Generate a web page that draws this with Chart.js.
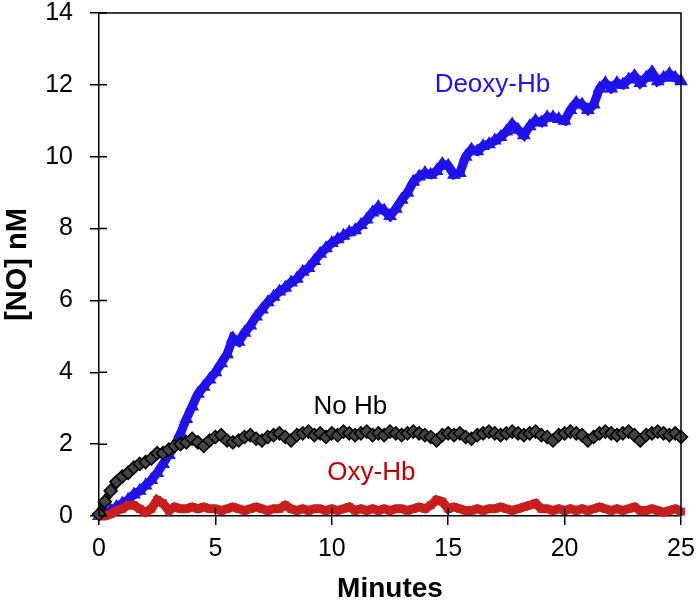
<!DOCTYPE html>
<html>
<head>
<meta charset="utf-8">
<script src="https://cdn.jsdelivr.net/npm/chart.js@4.4.0/dist/chart.umd.min.js"></script>
<style>
  html, body { margin: 0; padding: 0; background: #fff; }
  #wrap { width: 699px; height: 600px; }
</style>
</head>
<body>
<div id="wrap"><canvas id="chartNO" width="699" height="600"></canvas></div>
<script>
// ===== DATOS =====
// tiempo en minutos (paso de 0.25 min)
const minutes = [
  0, 0.25, 0.5, 0.75, 1, 1.25, 1.5, 1.75, 2, 2.25, 2.5, 2.75, 3, 3.25, 3.5, 3.75,
  4, 4.25, 4.5, 4.75, 5, 5.25, 5.5, 5.75, 6, 6.25, 6.5, 6.75, 7, 7.25, 7.5, 7.75,
  8, 8.25, 8.5, 8.75, 9, 9.25, 9.5, 9.75, 10, 10.25, 10.5, 10.75, 11, 11.25, 11.5, 11.75,
  12, 12.25, 12.5, 12.75, 13, 13.25, 13.5, 13.75, 14, 14.25, 14.5, 14.75, 15, 15.25, 15.5, 15.75,
  16, 16.25, 16.5, 16.75, 17, 17.25, 17.5, 17.75, 18, 18.25, 18.5, 18.75, 19, 19.25, 19.5, 19.75,
  20, 20.25, 20.5, 20.75, 21, 21.25, 21.5, 21.75, 22, 22.25, 22.5, 22.75, 23, 23.25, 23.5, 23.75,
  24, 24.25, 24.5, 24.75, 25
];

const deoxyHb = [
  0.00, 0.05, 0.15, 0.25, 0.35, 0.45, 0.60, 0.70, 0.85, 1.00, 1.20, 1.45, 1.70, 1.95, 2.30, 2.70,
  3.05, 3.40, 3.60, 3.80, 4.00, 4.25, 4.50, 4.95, 4.85, 5.10, 5.30, 5.55, 5.75, 5.95, 6.10, 6.25,
  6.35, 6.50, 6.60, 6.80, 6.90, 7.10, 7.30, 7.45, 7.60, 7.70, 7.80, 7.90, 7.95, 8.10, 8.25, 8.45,
  8.60, 8.50, 8.35, 8.55, 8.80, 9.00, 9.30, 9.45, 9.55, 9.50, 9.60, 9.80, 9.75, 9.50, 9.55, 10.00,
  10.20, 10.15, 10.30, 10.35, 10.45, 10.55, 10.70, 10.90, 10.75, 10.60, 10.85, 11.00, 10.95, 11.10, 11.10, 11.05,
  11.00, 11.30, 11.50, 11.45, 11.30, 11.45, 11.90, 12.05, 11.90, 12.05, 12.00, 12.15, 12.25, 12.05, 12.20, 12.35,
  12.10, 12.20, 12.30, 12.20, 12.10
];

const noHb = [
  0.05, 0.40, 0.70, 0.95, 1.10, 1.20, 1.35, 1.45, 1.50, 1.60, 1.75, 1.75, 1.85, 1.95, 2.00, 2.05,
  2.15, 2.05, 1.95, 2.10, 2.20, 2.25, 2.10, 2.05, 2.10, 2.20, 2.25, 2.15, 2.10, 2.20, 2.25, 2.30,
  2.20, 2.10, 2.25, 2.30, 2.35, 2.25, 2.30, 2.20, 2.30, 2.25, 2.35, 2.30, 2.25, 2.30, 2.35, 2.25,
  2.30, 2.25, 2.35, 2.30, 2.25, 2.30, 2.35, 2.30, 2.25, 2.20, 2.10, 2.25, 2.30, 2.25, 2.30, 2.20,
  2.15, 2.25, 2.30, 2.35, 2.30, 2.25, 2.30, 2.35, 2.30, 2.25, 2.30, 2.35, 2.25, 2.20, 2.10, 2.25,
  2.30, 2.35, 2.30, 2.25, 2.10, 2.20, 2.30, 2.35, 2.30, 2.25, 2.30, 2.35, 2.25, 2.10, 2.25, 2.30,
  2.35, 2.30, 2.25, 2.30, 2.20
];

const oxyHb = [
  0.00, 0.00, 0.05, 0.15, 0.20, 0.30, 0.30, 0.20, 0.10, 0.20, 0.45, 0.35, 0.15, 0.25, 0.20, 0.20,
  0.25, 0.20, 0.25, 0.20, 0.20, 0.15, 0.20, 0.25, 0.20, 0.15, 0.20, 0.25, 0.20, 0.15, 0.20, 0.20,
  0.30, 0.20, 0.15, 0.20, 0.15, 0.20, 0.20, 0.15, 0.20, 0.15, 0.20, 0.25, 0.15, 0.20, 0.15, 0.20,
  0.15, 0.20, 0.15, 0.20, 0.20, 0.15, 0.20, 0.25, 0.20, 0.30, 0.45, 0.40, 0.20, 0.25, 0.20, 0.15,
  0.15, 0.20, 0.15, 0.20, 0.20, 0.25, 0.20, 0.15, 0.20, 0.25, 0.30, 0.35, 0.20, 0.20, 0.15, 0.20,
  0.15, 0.20, 0.15, 0.20, 0.15, 0.20, 0.25, 0.20, 0.15, 0.20, 0.15, 0.20, 0.25, 0.15, 0.15, 0.20,
  0.15, 0.10, 0.15, 0.20, 0.12
];

const xTicks = [0, 5, 10, 15, 20, 25];
const yTicks = [0, 2, 4, 6, 8, 10, 12, 14];

// ===== COLORES =====
const palette = {
    blue: "#1f12ee",
    red: "#c81e1e",
    redText: "#c00000",
    black: "#000000"
};

const FONT = "Arial, 'Liberation Sans', sans-serif";

function toPoints(values) {
    return minutes.map((t, i) => ({ x: t, y: values[i] }));
}

// ===== PLUGIN: MARCO, TICKS INTERIORES Y ETIQUETAS =====
const framePlugin = {
    id: "frame",
    afterDatasetsDraw(chart) {
        const ctx = chart.ctx;
        const { left, right, top, bottom } = chart.chartArea;
        const xs = chart.scales.x;
        const ys = chart.scales.y;
        ctx.save();
        ctx.strokeStyle = "#000";
        ctx.lineWidth = 1.5;
        // caja
        ctx.beginPath();
        ctx.moveTo(left, top);
        ctx.lineTo(right, top);
        ctx.lineTo(right, bottom);
        ctx.stroke();
        // ticks hacia dentro
        ctx.beginPath();
        xTicks.forEach(v => {
            const px = xs.getPixelForValue(v);
            ctx.moveTo(px, bottom);
            ctx.lineTo(px, bottom - 8);
        });
        yTicks.forEach(v => {
            const py = ys.getPixelForValue(v);
            ctx.moveTo(left, py);
            ctx.lineTo(left + 8, py);
        });
        ctx.stroke();

        // etiquetas de las curvas
        ctx.font = "26px " + FONT;
        ctx.textAlign = "center";
        ctx.textBaseline = "middle";
        ctx.fillStyle = palette.blue;
        ctx.fillText("Deoxy-Hb", xs.getPixelForValue(16.9), ys.getPixelForValue(12.0));
        ctx.fillStyle = "#000";
        ctx.fillText("No Hb", xs.getPixelForValue(10.8), ys.getPixelForValue(3.05));
        ctx.fillStyle = palette.redText;
        ctx.fillText("Oxy-Hb", xs.getPixelForValue(11.7), ys.getPixelForValue(1.2));
        ctx.restore();
    }
};

new Chart(document.getElementById("chartNO"), {
    type: "scatter",
    data: {
        datasets: [
            {
                label: "No Hb",
                data: toPoints(noHb),
                showLine: true,
                borderColor: "#1a1a1a",
                borderWidth: 8,
                pointStyle: "rectRot",
                pointRadius: 6.5,
                pointBorderWidth: 1.5,
                pointBorderColor: "#000",
                pointBackgroundColor: "#444",
                clip: 8
            },
            {
                label: "Oxy-Hb",
                data: toPoints(oxyHb),
                showLine: true,
                borderColor: palette.red,
                borderWidth: 9,
                pointStyle: "rect",
                pointRadius: 5.5,
                pointBorderWidth: 0,
                pointBackgroundColor: palette.red,
                clip: 8
            },
            {
                label: "Deoxy-Hb",
                data: toPoints(deoxyHb),
                showLine: true,
                borderColor: palette.blue,
                borderWidth: 9,
                pointStyle: "triangle",
                pointRadius: 8,
                pointBorderWidth: 0,
                pointBackgroundColor: palette.blue,
                clip: 8
            }
        ]
    },
    options: {
        responsive: false,
        animation: false,
        layout: { padding: { top: 13, right: 18, left: 0, bottom: 0 } },
        plugins: {
            legend: { display: false },
            tooltip: { enabled: false }
        },
        scales: {
            x: {
                type: "linear",
                min: 0,
                max: 25,
                afterBuildTicks: s => { s.ticks = xTicks.map(v => ({ value: v })); },
                afterFit: s => { s.height = 84; s.paddingLeft = 0; s.paddingRight = 0; },
                border: { display: true, color: "#000", width: 1.5 },
                grid: { drawOnChartArea: false, drawTicks: true, tickLength: 9, color: "#000", lineWidth: 1.5 },
                ticks: { color: "#000", padding: 9, maxRotation: 0, font: { family: FONT, size: 25 } },
                title: {
                    display: true,
                    text: "Minutes",
                    color: "#000",
                    padding: { top: 0, bottom: -3 },
                    font: { family: FONT, size: 28, weight: "bold", lineHeight: 1 }
                }
            },
            y: {
                type: "linear",
                min: 0,
                max: 14,
                afterBuildTicks: s => { s.ticks = yTicks.map(v => ({ value: v })); },
                afterFit: s => { s.width = 99; s.paddingTop = 0; s.paddingBottom = 0; },
                border: { display: true, color: "#000", width: 1.5 },
                grid: { drawOnChartArea: false, drawTicks: true, tickLength: 9, color: "#000", lineWidth: 1.5 },
                ticks: { color: "#000", padding: 17, font: { family: FONT, size: 25 } },
                title: {
                    display: true,
                    text: "[NO] nM",
                    color: "#000",
                    padding: { top: 3, bottom: 0 },
                    font: { family: FONT, size: 29, weight: "bold", lineHeight: 1 }
                }
            }
        }
    },
    plugins: [framePlugin]
});
</script>
</body>
</html>
